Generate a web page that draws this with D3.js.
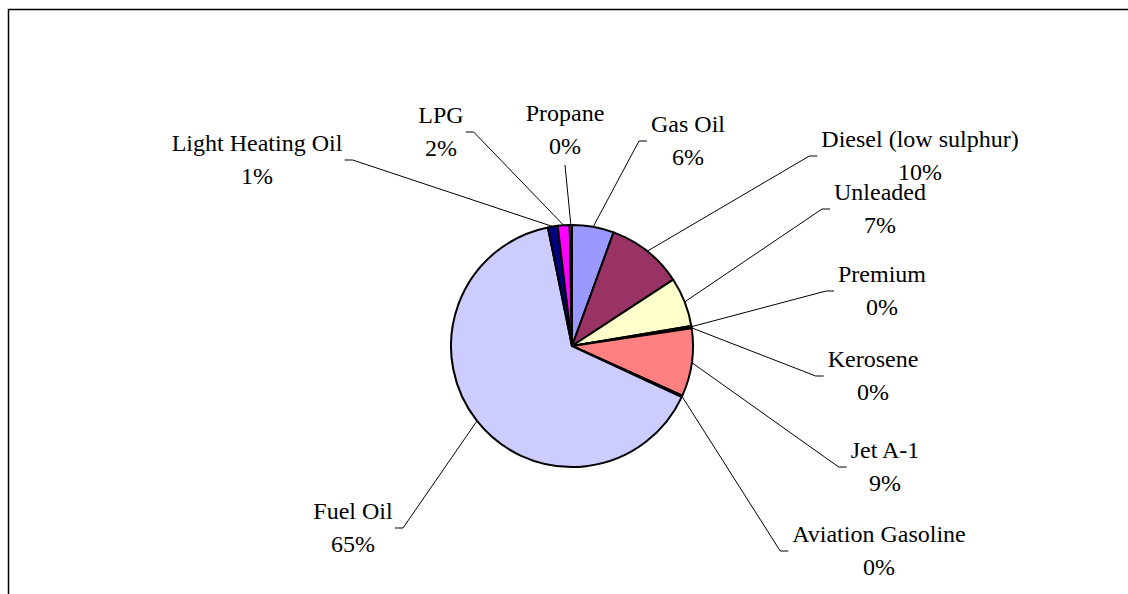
<!DOCTYPE html>
<html>
<head>
<meta charset="utf-8">
<script src="https://cdn.jsdelivr.net/npm/d3@7"></script>
<style>
  body { margin: 0; background: #fff; }
  svg { display: block; }
</style>
</head>
<body>
<svg id="chart"></svg>
<script>
// fuel shares, clockwise from 12 o'clock
const categories = ['Gas Oil', 'Diesel (low sulphur)', 'Unleaded', 'Premium', 'Kerosene', 'Jet A-1',
  'Aviation Gasoline', 'Fuel Oil', 'Light Heating Oil', 'LPG', 'Propane'];
const values = [5.6, 10.2, 6.6, 0.2, 0.1, 9.1, 0.2, 65.0, 1.3, 1.6, 0.3];
const colors = ['#9999FF', '#993366', '#FFFFCC', '#FFFFCC', '#CCFFFF', '#FF8080',
  '#0066CC', '#CCCCFF', '#000080', '#FF00FF', '#FFFFFF'];

// label centres (Excel places these by hand)
const labelPos = [[688, 132], [920, 147], [880, 200], [882, 282], [873, 367], [885, 458],
  [879, 542], [353, 519], [257, 151], [441, 123], [565, 121]];

const width = 1128, height = 594;
const cx = 572, cy = 346, r = 121;
const lineGap = 33;
const serif = "'Liberation Serif', 'Times New Roman', Times, 'DejaVu Serif', serif";

const svg = d3.select('#chart')
  .attr('width', width)
  .attr('height', height);

// chart frame (runs off right / bottom edges)
svg.append('path')
  .attr('d', `M8.5,${height + 2}V9.5H${width + 2}`)
  .attr('fill', 'none')
  .attr('stroke', '#000')
  .attr('stroke-width', 1.5);

const data = categories.map((c, i) => ({ name: c, value: values[i], color: colors[i], pos: labelPos[i] }));
const total = d3.sum(values);

const pie = d3.pie().sort(null).value(d => d.value);
const arcs = pie(data);
const arc = d3.arc().innerRadius(0).outerRadius(r);
const edge = d3.arc().innerRadius(r).outerRadius(r);

const g = svg.append('g').attr('transform', `translate(${cx},${cy})`);

g.selectAll('.slice')
  .data(arcs)
  .join('path')
  .attr('class', 'slice')
  .attr('d', arc)
  .attr('fill', d => d.data.color)
  .attr('stroke', '#000')
  .attr('stroke-width', 2)
  .attr('stroke-linejoin', 'round');

const labels = svg.append('g');

arcs.forEach(d => {
  const [lx, ly] = d.data.pos;
  const pct = Math.round(d.data.value / total * 100) + '%';
  const t = labels.append('text')
    .attr('font-family', serif)
    .attr('font-size', 24)
    .attr('fill', '#000')
    .attr('text-anchor', 'middle');
  t.append('tspan').attr('x', lx).attr('y', ly).text(d.data.name);
  t.append('tspan').attr('x', lx).attr('y', ly + lineGap).text(pct);

  const bb = t.node().getBBox();
  const [px, py] = edge.centroid(d);
  const ex = cx + px, ey = cy + py;
  let pts;
  if (ex > bb.x && ex < bb.x + bb.width) {
    // label sits right above the slice
    pts = [[lx, ly + lineGap + 11], [ex, ey]];
  } else if (ex > lx) {
    const x0 = bb.x + bb.width + 2;
    pts = [[ex, ey], [x0 + 8, ly + 9], [x0, ly + 9]];
  } else {
    const x0 = bb.x - 4;
    pts = [[ex, ey], [x0 - 8, ly + 9], [x0, ly + 9]];
  }
  labels.append('path')
    .attr('d', d3.line()(pts))
    .attr('fill', 'none')
    .attr('stroke', '#000')
    .attr('stroke-width', 1);
});
</script>
</body>
</html>
